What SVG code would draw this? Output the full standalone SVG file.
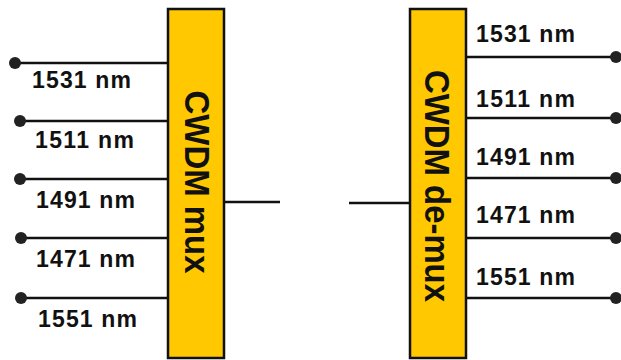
<svg xmlns="http://www.w3.org/2000/svg" width="621" height="360" viewBox="0 0 621 360">
<style>
.box{fill:#FFC800;stroke:#111;stroke-width:2.5}
.ln{stroke:#111;stroke-width:2.5;fill:none}
.dot{fill:#222}
.lbl{font-family:"Liberation Sans",Arial,sans-serif;font-weight:bold;font-size:23px;fill:#111}
.vt{font-family:"Liberation Sans",Arial,sans-serif;font-weight:bold;font-size:35px;fill:#111;text-anchor:middle;dominant-baseline:central}
</style>
<rect width="621" height="360" fill="#fff"/>
<g id="connectors">
<line class="ln" x1="15" y1="63" x2="168" y2="63"/>
<line class="ln" x1="18" y1="121" x2="168" y2="121"/>
<line class="ln" x1="18" y1="179" x2="168" y2="179"/>
<line class="ln" x1="18" y1="238" x2="168" y2="238"/>
<line class="ln" x1="18" y1="298" x2="168" y2="298"/>
<line class="ln" x1="224" y1="202" x2="280" y2="202"/>
<line class="ln" x1="349" y1="203" x2="409" y2="203"/>
<line class="ln" x1="466" y1="57" x2="614" y2="57"/>
<line class="ln" x1="466" y1="118" x2="614" y2="118"/>
<line class="ln" x1="466" y1="178" x2="614" y2="178"/>
<line class="ln" x1="466" y1="238" x2="614" y2="238"/>
<line class="ln" x1="466" y1="298" x2="614" y2="298"/>
<circle class="dot" cx="15" cy="63" r="6"/>
<circle class="dot" cx="20" cy="121" r="6"/>
<circle class="dot" cx="20" cy="179" r="6"/>
<circle class="dot" cx="21" cy="238" r="6"/>
<circle class="dot" cx="21" cy="298" r="6"/>
<circle class="dot" cx="616" cy="57" r="6"/>
<circle class="dot" cx="616" cy="118" r="6"/>
<circle class="dot" cx="616" cy="178" r="6"/>
<circle class="dot" cx="616" cy="238" r="6"/>
<circle class="dot" cx="616" cy="298" r="6"/>
</g>
<g id="mux">
<rect class="box" x="168" y="9" width="56" height="349"/>
<text class="vt" transform="translate(197,182) rotate(90)" textLength="183" lengthAdjust="spacingAndGlyphs">CWDM mux</text>
</g>
<g id="demux">
<rect class="box" x="410" y="9" width="56" height="349"/>
<text class="vt" transform="translate(437,186) rotate(90)" textLength="232" lengthAdjust="spacingAndGlyphs">CWDM de-mux</text>
</g>
<g id="labels-left">
<text class="lbl" x="32" y="88" textLength="99">1531 nm</text>
<text class="lbl" x="35" y="148" textLength="99">1511 nm</text>
<text class="lbl" x="36" y="208" textLength="99">1491 nm</text>
<text class="lbl" x="36" y="267" textLength="99">1471 nm</text>
<text class="lbl" x="38" y="327" textLength="99">1551 nm</text>
</g>
<g id="labels-right">
<text class="lbl" x="476" y="42" textLength="99">1531 nm</text>
<text class="lbl" x="476" y="107" textLength="99">1511 nm</text>
<text class="lbl" x="476" y="165" textLength="99">1491 nm</text>
<text class="lbl" x="476" y="223" textLength="99">1471 nm</text>
<text class="lbl" x="476" y="285" textLength="99">1551 nm</text>
</g>
</svg>
